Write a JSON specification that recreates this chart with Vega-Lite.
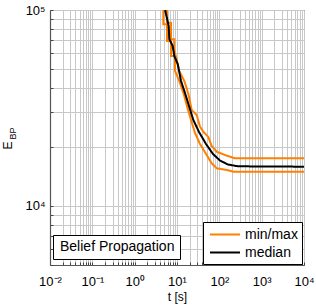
{
  "$schema": "https://vega.github.io/schema/vega-lite/v6.json",
  "width": 254,
  "height": 255,
  "autosize": {"type": "none"},
  "padding": {"left": 50, "top": 10, "right": 12, "bottom": 40},
  "background": "white",
  "config": {
    "font": "Liberation Sans",
    "view": {"stroke": "#222", "strokeWidth": 1},
    "axis": {
      "labelFont": "Liberation Sans", "titleFont": "Liberation Sans",
      "labelFontSize": 13, "titleFontSize": 12,
      "labelColor": "#000", "titleColor": "#000", "titleFontWeight": "normal",
      "gridColor": "#c8c8c8", "gridWidth": 1, "gridOpacity": 1,
      "domainColor": "#555", "domainWidth": 1.2,
      "tickColor": "#444", "tickSize": -3,
      "labelOverlap": false, "labelFlush": false
    }
  },
  "data": {"values": [
    {"s": "max", "kind": "min/max", "model": "Belief Propagation", "i": 0, "t": 5.80, "E": 109850},
    {"s": "max", "kind": "min/max", "model": "Belief Propagation", "i": 1, "t": 5.80, "E": 86130},
    {"s": "max", "kind": "min/max", "model": "Belief Propagation", "i": 2, "t": 7.22, "E": 86130},
    {"s": "max", "kind": "min/max", "model": "Belief Propagation", "i": 3, "t": 7.22, "E": 70880},
    {"s": "max", "kind": "min/max", "model": "Belief Propagation", "i": 4, "t": 8.63, "E": 70880},
    {"s": "max", "kind": "min/max", "model": "Belief Propagation", "i": 5, "t": 8.63, "E": 62520},
    {"s": "max", "kind": "min/max", "model": "Belief Propagation", "i": 6, "t": 11.33, "E": 48840},
    {"s": "max", "kind": "min/max", "model": "Belief Propagation", "i": 7, "t": 14.87, "E": 43430},
    {"s": "max", "kind": "min/max", "model": "Belief Propagation", "i": 8, "t": 16.95, "E": 39860},
    {"s": "max", "kind": "min/max", "model": "Belief Propagation", "i": 9, "t": 19.21, "E": 36120},
    {"s": "max", "kind": "min/max", "model": "Belief Propagation", "i": 10, "t": 22.24, "E": 30880},
    {"s": "max", "kind": "min/max", "model": "Belief Propagation", "i": 11, "t": 29.19, "E": 29130},
    {"s": "max", "kind": "min/max", "model": "Belief Propagation", "i": 12, "t": 34.95, "E": 25390},
    {"s": "max", "kind": "min/max", "model": "Belief Propagation", "i": 13, "t": 41.82, "E": 23940},
    {"s": "max", "kind": "min/max", "model": "Belief Propagation", "i": 14, "t": 54.87, "E": 22490},
    {"s": "max", "kind": "min/max", "model": "Belief Propagation", "i": 15, "t": 66.03, "E": 20240},
    {"s": "max", "kind": "min/max", "model": "Belief Propagation", "i": 16, "t": 86.66, "E": 18920},
    {"s": "max", "kind": "min/max", "model": "Belief Propagation", "i": 17, "t": 136.1, "E": 18200},
    {"s": "max", "kind": "min/max", "model": "Belief Propagation", "i": 18, "t": 234.5, "E": 17510},
    {"s": "max", "kind": "min/max", "model": "Belief Propagation", "i": 19, "t": 10000, "E": 17510},
    {"s": "min", "kind": "min/max", "model": "Belief Propagation", "i": 0, "t": 4.75, "E": 109850},
    {"s": "min", "kind": "min/max", "model": "Belief Propagation", "i": 1, "t": 4.75, "E": 84540},
    {"s": "min", "kind": "min/max", "model": "Belief Propagation", "i": 2, "t": 5.80, "E": 84540},
    {"s": "min", "kind": "min/max", "model": "Belief Propagation", "i": 3, "t": 5.80, "E": 69480},
    {"s": "min", "kind": "min/max", "model": "Belief Propagation", "i": 4, "t": 7.22, "E": 69480},
    {"s": "min", "kind": "min/max", "model": "Belief Propagation", "i": 5, "t": 7.22, "E": 58270},
    {"s": "min", "kind": "min/max", "model": "Belief Propagation", "i": 6, "t": 8.97, "E": 58270},
    {"s": "min", "kind": "min/max", "model": "Belief Propagation", "i": 7, "t": 8.97, "E": 48840},
    {"s": "min", "kind": "min/max", "model": "Belief Propagation", "i": 8, "t": 11.33, "E": 43430},
    {"s": "min", "kind": "min/max", "model": "Belief Propagation", "i": 9, "t": 14.63, "E": 36840},
    {"s": "min", "kind": "min/max", "model": "Belief Propagation", "i": 10, "t": 17.70, "E": 31620},
    {"s": "min", "kind": "min/max", "model": "Belief Propagation", "i": 11, "t": 21.41, "E": 27480},
    {"s": "min", "kind": "min/max", "model": "Belief Propagation", "i": 12, "t": 26.63, "E": 23580},
    {"s": "min", "kind": "min/max", "model": "Belief Propagation", "i": 13, "t": 34.95, "E": 20720},
    {"s": "min", "kind": "min/max", "model": "Belief Propagation", "i": 14, "t": 50.30, "E": 18200},
    {"s": "min", "kind": "min/max", "model": "Belief Propagation", "i": 15, "t": 66.03, "E": 16510},
    {"s": "min", "kind": "min/max", "model": "Belief Propagation", "i": 16, "t": 86.66, "E": 15570},
    {"s": "min", "kind": "min/max", "model": "Belief Propagation", "i": 17, "t": 149.3, "E": 15270},
    {"s": "min", "kind": "min/max", "model": "Belief Propagation", "i": 18, "t": 213.8, "E": 14960},
    {"s": "min", "kind": "min/max", "model": "Belief Propagation", "i": 19, "t": 10000, "E": 14960},
    {"s": "median", "kind": "median", "model": "Belief Propagation", "i": 0, "t": 5.29, "E": 109850},
    {"s": "median", "kind": "median", "model": "Belief Propagation", "i": 1, "t": 5.29, "E": 98830},
    {"s": "median", "kind": "median", "model": "Belief Propagation", "i": 2, "t": 6.37, "E": 82870},
    {"s": "median", "kind": "median", "model": "Belief Propagation", "i": 3, "t": 6.58, "E": 71120},
    {"s": "median", "kind": "median", "model": "Belief Propagation", "i": 4, "t": 7.91, "E": 65520},
    {"s": "median", "kind": "median", "model": "Belief Propagation", "i": 5, "t": 8.63, "E": 58270},
    {"s": "median", "kind": "median", "model": "Belief Propagation", "i": 6, "t": 10.39, "E": 53040},
    {"s": "median", "kind": "median", "model": "Belief Propagation", "i": 7, "t": 12.43, "E": 43430},
    {"s": "median", "kind": "median", "model": "Belief Propagation", "i": 8, "t": 15.45, "E": 37720},
    {"s": "median", "kind": "median", "model": "Belief Propagation", "i": 9, "t": 19.52, "E": 32000},
    {"s": "median", "kind": "median", "model": "Belief Propagation", "i": 10, "t": 24.27, "E": 27480},
    {"s": "median", "kind": "median", "model": "Belief Propagation", "i": 11, "t": 33.10, "E": 23860},
    {"s": "median", "kind": "median", "model": "Belief Propagation", "i": 12, "t": 48.42, "E": 20720},
    {"s": "median", "kind": "median", "model": "Belief Propagation", "i": 13, "t": 70.83, "E": 18420},
    {"s": "median", "kind": "median", "model": "Belief Propagation", "i": 14, "t": 103.7, "E": 17060},
    {"s": "median", "kind": "median", "model": "Belief Propagation", "i": 15, "t": 160.2, "E": 16280},
    {"s": "median", "kind": "median", "model": "Belief Propagation", "i": 16, "t": 276.0, "E": 15940},
    {"s": "median", "kind": "median", "model": "Belief Propagation", "i": 17, "t": 10000, "E": 15870}
  ]},
  "resolve": {"axis": {"y": "independent"}},
  "layer": [
    {
      "transform": [{"filter": "datum.kind == 'min/max'"}],
      "mark": {"type": "line", "clip": true, "strokeWidth": 2},
      "encoding": {
        "x": {
          "field": "t", "type": "quantitative",
          "scale": {"type": "log", "domain": [0.01, 10000], "nice": false},
          "axis": {
            "title": "t [s]", "titlePadding": 3,
            "values": [0.01,0.02,0.03,0.04,0.05,0.06,0.07,0.08,0.09,0.1,0.2,0.3,0.4,0.5,0.6,0.7,0.8,0.9,1,2,3,4,5,6,7,8,9,10,20,30,40,50,60,70,80,90,100,200,300,400,500,600,700,800,900,1000,2000,3000,4000,5000,6000,7000,8000,9000,10000],
            "labelPadding": 13,
            "labelExpr": "abs(log(datum.value)/LN10 - round(log(datum.value)/LN10)) > 0.001 ? '' : '10' + (round(log(datum.value)/LN10) < 0 ? '⁻' : '') + substring('⁰¹²³⁴⁵⁶⁷⁸⁹', abs(round(log(datum.value)/LN10)), abs(round(log(datum.value)/LN10)) + 1)"
          }
        },
        "y": {
          "field": "E", "type": "quantitative",
          "scale": {"type": "log", "domain": [5000, 100000], "nice": false},
          "axis": {
            "title": "E", "titleFontSize": 12, "titleBaseline": "alphabetic", "titleAlign": "center",
            "titleX": -39, "titleY": 135,
            "values": [5000,6000,7000,8000,9000,10000,20000,30000,40000,50000,60000,70000,80000,90000,100000],
            "labelPadding": 8,
            "labelExpr": "abs(log(datum.value)/LN10 - round(log(datum.value)/LN10)) > 0.001 ? '' : '10' + substring('⁰¹²³⁴⁵⁶⁷⁸⁹', round(log(datum.value)/LN10), round(log(datum.value)/LN10) + 1)"
          }
        },
        "detail": {"field": "s"},
        "order": {"field": "i"},
        "color": {
          "field": "kind", "type": "nominal",
          "scale": {"domain": ["min/max", "median"], "range": ["#ff8000", "#000000"]},
          "legend": {
            "title": null, "orient": "none", "legendX": 153, "legendY": 212,
            "symbolType": "M-2,0H2", "symbolSize": 225, "symbolStrokeWidth": 2,
            "labelFontSize": 14, "labelFont": "Liberation Sans", "labelColor": "#000",
            "strokeColor": "#000", "fillColor": "white", "padding": 4,
            "symbolOffset": 9.5, "labelOffset": 11.5, "rowPadding": 2
          }
        },
        "strokeDash": {
          "field": "model", "type": "nominal",
          "scale": {"range": [[1, 0]]},
          "legend": {
            "title": null, "orient": "none", "legendX": 3, "legendY": 225,
            "symbolSize": 0, "symbolOpacity": 0, "symbolStrokeWidth": 0,
            "labelFontSize": 14, "labelFont": "Liberation Sans", "labelColor": "#000",
            "strokeColor": "#000", "fillColor": "white", "padding": 5,
            "labelOffset": -12
          }
        }
      }
    },
    {
      "transform": [{"filter": "datum.kind == 'median'"}],
      "mark": {"type": "line", "clip": true, "strokeWidth": 2},
      "encoding": {
        "x": {"field": "t", "type": "quantitative", "scale": {"type": "log", "domain": [0.01, 10000], "nice": false}},
        "y": {
          "field": "E", "type": "quantitative",
          "scale": {"type": "log", "domain": [5000, 100000], "nice": false},
          "axis": {
            "orient": "left", "title": "BP", "titleFontSize": 9,
            "titleBaseline": "alphabetic", "titleAlign": "center",
            "titleX": -34.5, "titleY": 123,
            "labels": false, "ticks": false, "domain": false, "grid": false
          }
        },
        "detail": {"field": "s"},
        "order": {"field": "i"},
        "color": {"field": "kind", "type": "nominal"},
        "strokeDash": {"field": "model", "type": "nominal"}
      }
    }
  ]
}
